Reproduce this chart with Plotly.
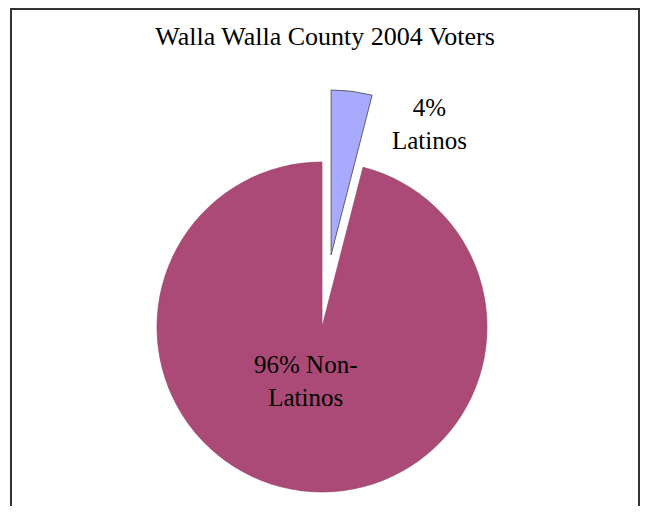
import math
import plotly.graph_objects as go

# ---- data ----
groups = ["Latinos", "Non-Latinos"]
shares = [4, 96]
label_texts = ["4%<br>Latinos", "96% Non-<br>Latinos"]
title_text = "Walla Walla County 2004 Voters"
exploded = "Latinos"

# ---- styling / layout ----
PAGE_W, PAGE_H = 648, 514
OFF = 8                      # default body margin of the html page
W, H = PAGE_W - 2 * OFF, PAGE_H - 2 * OFF
colors = {"Latinos": "#A8AAFF", "Non-Latinos": "#AB4A77"}
R = 165            # pie radius in px
CX, CY = 322, 327  # pie centre in px (page coords)
PULL = 0.44        # pull of exploded slice, fraction of radius
FONT = "Liberation Serif, Times New Roman, serif"


def px(x):
    return (x - OFF) / W


def py(y):
    return 1 - (y - OFF) / H


def domain(cx, cy):
    return dict(x=[px(cx - R), px(cx + R)], y=[py(cy + R), py(cy - R)])


# angle of bisector of exploded slice (clockwise from 12 o'clock)
total = sum(shares)
idx = groups.index(exploded)
start = sum(shares[:idx]) / total * 360
mid = math.radians(start + shares[idx] / total * 360 / 2)
dx = PULL * R * math.sin(mid)
dy = PULL * R * math.cos(mid)

fig = go.Figure()

# main (non-exploded) slices
fig.add_trace(go.Pie(
    labels=groups, values=shares, sort=False, direction="clockwise",
    rotation=0,
    marker=dict(colors=["rgba(0,0,0,0)" if g == exploded else colors[g] for g in groups],
                line=dict(color=["rgba(0,0,0,0)" if g == exploded else "#8f3d64" for g in groups],
                          width=0.6)),
    textinfo="none", hoverinfo="label+percent", showlegend=False,
    domain=domain(CX, CY),
))

# exploded slice
fig.add_trace(go.Pie(
    labels=groups, values=shares, sort=False, direction="clockwise",
    rotation=0,
    marker=dict(colors=[colors[g] if g == exploded else "rgba(0,0,0,0)" for g in groups],
                line=dict(color=["#444444" if g == exploded else "rgba(0,0,0,0)" for g in groups],
                          width=0.8)),
    textinfo="none", hoverinfo="label+percent", showlegend=False,
    domain=domain(CX + dx, CY - dy),
))

# labels
label_pos = {"Latinos": (429, 124), "Non-Latinos": (305, 381)}
for g, t in zip(groups, label_texts):
    x, y = label_pos[g]
    fig.add_annotation(x=px(x), y=py(y), xref="paper", yref="paper",
                       xanchor="center", yanchor="middle",
                       text=t, showarrow=False, align="center",
                       font=dict(family=FONT, size=25, color="#000000"))

# chart border (bottom edge falls outside the picture)
fig.add_shape(type="rect", xref="paper", yref="paper",
              x0=px(11), x1=px(639), y0=-0.05, y1=py(9),
              line=dict(color="#333333", width=2), fillcolor="rgba(0,0,0,0)")

fig.update_layout(
    width=W, height=H,
    margin=dict(l=0, r=0, t=0, b=0),
    paper_bgcolor="white", plot_bgcolor="white",
    title=dict(text=title_text, x=px(325), xanchor="center",
               y=py(36), yanchor="middle", yref="container",
               font=dict(family=FONT, size=26, color="#000000")),
    showlegend=False,
)

fig.write_html("out.html")
